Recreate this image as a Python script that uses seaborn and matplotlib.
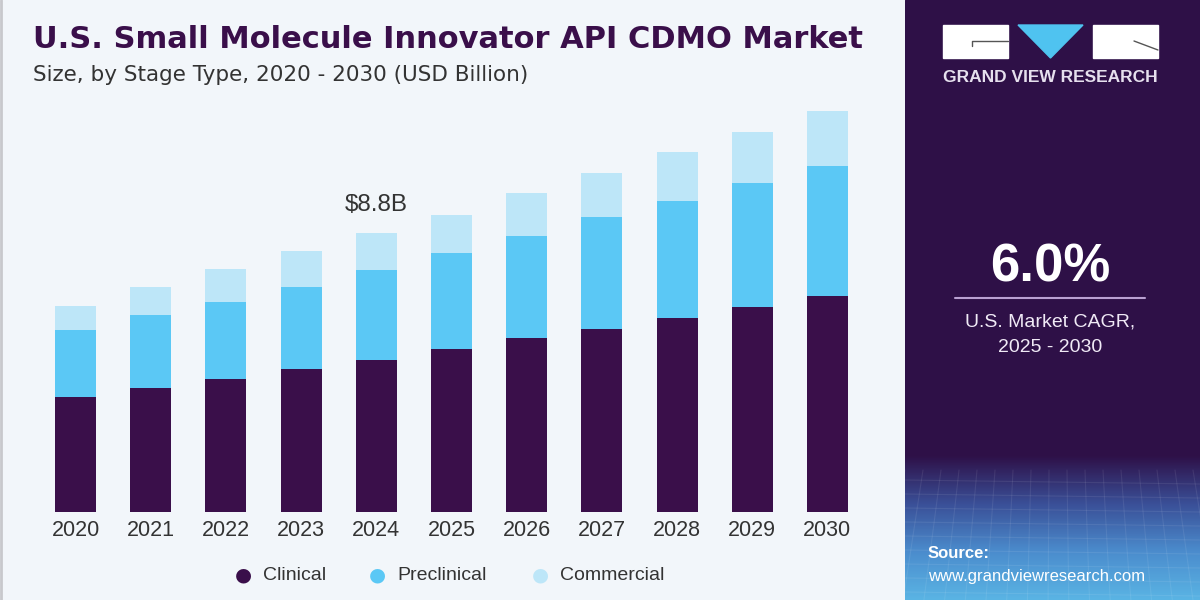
import numpy as np
import pandas as pd
import matplotlib
matplotlib.use("Agg")
import matplotlib.pyplot as plt
import seaborn as sns

# values (USD Billion)
years = ["2020", "2021", "2022", "2023", "2024", "2025", "2026", "2027", "2028", "2029", "2030"]
clinical = [3.63, 3.91, 4.20, 4.51, 4.79, 5.14, 5.49, 5.77, 6.12, 6.47, 6.81]
preclinical = [2.11, 2.30, 2.43, 2.59, 2.84, 3.03, 3.22, 3.53, 3.69, 3.91, 4.10]
commercial = [0.76, 0.88, 1.04, 1.14, 1.17, 1.20, 1.36, 1.39, 1.55, 1.61, 1.74]
series_names = ["Clinical", "Preclinical", "Commercial"]
colors = ["#3a0f4a", "#5bc8f5", "#bde6f8"]

df = pd.DataFrame({"year": years, "Clinical": clinical,
                   "Preclinical": preclinical, "Commercial": commercial})

sns.set_theme(style="white")
plt.rcParams["font.family"] = ["Liberation Sans", "DejaVu Sans"]

fig = plt.figure(figsize=(12, 6), dpi=100)
fig.patch.set_facecolor("#f2f6fa")

ax = fig.add_axes([38 / 1200, 88 / 600, 827 / 1200, 412 / 600])
ax.set_facecolor("#f2f6fa")

bottom = np.zeros(len(years))
for name, col in zip(series_names, colors):
    sns.barplot(data=df, x="year", y=name, color=col, width=0.545,
                bottom=bottom, saturation=1, ax=ax, linewidth=0)
    bottom = bottom + df[name].values

ax.set_xlim(-0.5, 10.5)
ax.set_ylim(0, 13)
ax.set_xlabel("")
ax.set_ylabel("")
ax.set_yticks([])
ax.tick_params(axis="x", length=0, labelsize=15.5, labelcolor="#333333", pad=6)
for s in ax.spines.values():
    s.set_visible(False)

# total label for 2024
tot_2024 = bottom[4]
ax.text(4, tot_2024 + 0.55, f"${tot_2024:.1f}B", ha="center", va="bottom",
        fontsize=17.5, color="#333333")

# titles
fig.text(33 / 1200, 1 - 40 / 600, "U.S. Small Molecule Innovator API CDMO Market",
         fontsize=22, fontweight="heavy", color="#3a0f4a", va="center",
         family="DejaVu Sans")
fig.text(33 / 1200, 1 - 75 / 600, "Size, by Stage Type, 2020 - 2030 (USD Billion)",
         fontsize=15.5, color="#333333", va="center", family="DejaVu Sans")

# thin left border
fig.add_artist(plt.Line2D([0.001, 0.001], [0, 1], color="#c8c8cc", lw=2))

# legend
for xpx, name, col in zip([243, 377, 540], series_names, colors):
    fig.text(xpx / 1200, 1 - 575 / 600, "\u25cf", fontsize=14, color=col,
             ha="center", va="center", family="DejaVu Sans")
    fig.text((xpx + 20) / 1200, 1 - 575 / 600, name, fontsize=14,
             color="#333333", va="center")

# right panel
rp = fig.add_axes([905 / 1200, 0, 295 / 1200, 1])
rp.set_xlim(0, 295)
rp.set_ylim(600, 0)
rp.axis("off")
rp.add_patch(plt.Rectangle((0, 0), 295, 600, color="#2e1047", zorder=0))
grad = np.linspace(0, 1, 200)[:, None]
cmap = matplotlib.colors.LinearSegmentedColormap.from_list(
    "g", ["#2e1047", "#3a4f97", "#4b8ccd", "#5ab4e4"])
rp.imshow(grad, extent=(0, 295, 600, 455), cmap=cmap, aspect="auto", zorder=1)
# faint grid texture
for i in range(0, 300, 18):
    rp.plot([i, i + (i - 150) * 0.15], [470, 600], color="white", alpha=0.08, lw=0.8, zorder=2)
for j in range(480, 600, 14):
    rp.plot([0, 295], [j, j + 4], color="white", alpha=0.08, lw=0.8, zorder=2)

# logo
rp.add_patch(plt.Rectangle((38, 25), 65, 33, color="white", zorder=3))
rp.add_patch(plt.Polygon([[113, 25], [178, 25], [145.5, 58]], color="#4fc3f0", zorder=3))
rp.add_patch(plt.Rectangle((188, 25), 65, 33, color="white", zorder=3))
rp.plot([67, 67, 103], [46, 41, 41], color="#555555", lw=1, zorder=4)
rp.plot([229, 253], [41, 50], color="#555555", lw=1, zorder=4)
rp.text(145.5, 78, "GRAND VIEW RESEARCH", color="#e6e0ee", fontsize=12.5,
        fontweight="bold", ha="center", va="center", zorder=4)

rp.text(145, 268, "6.0%", color="white", fontsize=38, fontweight="bold",
        ha="center", va="center", zorder=4)
rp.plot([50, 240], [298, 298], color="#b9a0d2", lw=1.5, zorder=4)
rp.text(145, 322, "U.S. Market CAGR,", color="#f0eaf6", fontsize=14,
        ha="center", va="center", zorder=4)
rp.text(145, 348, "2025 - 2030", color="#f0eaf6", fontsize=14,
        ha="center", va="center", zorder=4)

rp.text(23, 553, "Source:", color="white", fontsize=12, fontweight="bold",
        va="center", zorder=4)
rp.text(23, 577, "www.grandviewresearch.com", color="white", fontsize=12,
        va="center", zorder=4)

fig.savefig("out.png", dpi=100, facecolor=fig.get_facecolor())
